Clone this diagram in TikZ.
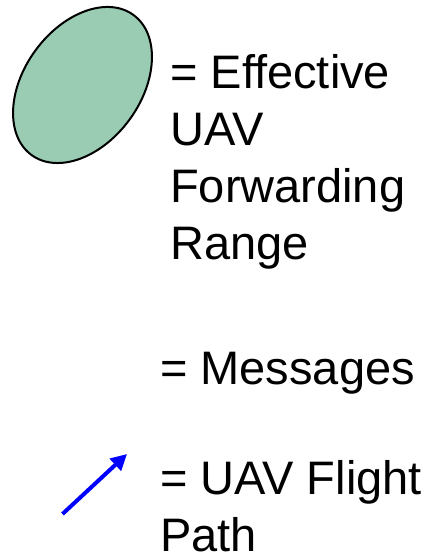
\documentclass[tikz,border=0pt]{standalone}
\usepackage{fontspec}
\setmainfont{Liberation Sans}
\usetikzlibrary{arrows.meta}
\definecolor{rangegreen}{RGB}{153,204,179}
\begin{document}
\begin{tikzpicture}[x=1pt,y=1pt,
  legendtext/.style={anchor=base west, inner sep=0pt, align=left,
    font=\fontsize{47}{57}\selectfont},
  rangearea/.style={draw=black, line width=2pt, fill=rangegreen},
  flightpath/.style={draw=blue, line width=4pt,
    -{Triangle[length=16pt,width=16pt]}}]
\useasboundingbox (0,0) rectangle (435,559);

% forwarding range symbol (multi-line labels are placed by their last baseline)
\draw[rangearea] (82.5,474) ellipse [x radius=86.6, y radius=58.4, rotate=54];
\node[legendtext] (rangelabel) at (170,299) {= Effective\\UAV\\Forwarding\\Range};

% messages entry
\node[legendtext] (msglabel) at (160,174) {= Messages};

% flight path symbol
\coordinate (fpstart) at (62.5,45);
\coordinate (fpend) at (127,105);
\draw[flightpath] (fpstart) -- (fpend);
\node[legendtext] (flightlabel) at (160,7) {= UAV Flight\\Path};
\end{tikzpicture}
\end{document}
